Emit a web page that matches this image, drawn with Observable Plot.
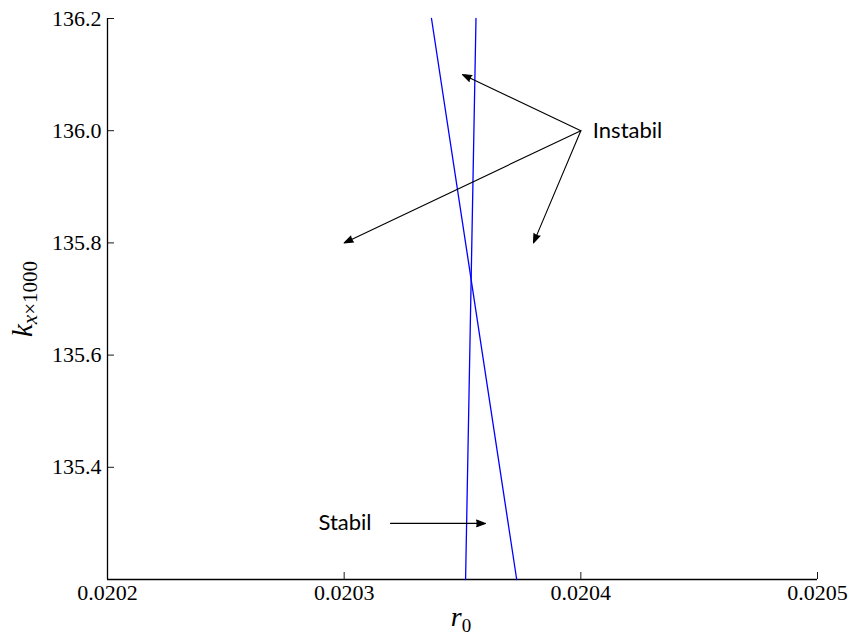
<!DOCTYPE html>
<html>
<head>
<meta charset="utf-8">
<script src="https://cdn.jsdelivr.net/npm/d3@7"></script>
<script src="https://cdn.jsdelivr.net/npm/@observablehq/plot@0.6"></script>
<style>
  body { margin: 0; background: #fff; }
</style>
</head>
<body>
<div id="chart"></div>
<script>
// Axis ranges and tick values
const xDomain = [0.0202, 0.0205];
const yDomain = [135.2, 136.2];
const xTicks = [0.0202, 0.0203, 0.0204, 0.0205];
const yTicks = [135.4, 135.6, 135.8, 136.0, 136.2];

// Two stability boundary curves (r0, kx×1000)
const curveA_r0 = [0.0203557, 0.0203513];
const curveA_kx = [136.2, 135.2];
const curveB_r0 = [0.0203369, 0.0203729];
const curveB_kx = [136.2, 135.2];

// Annotation arrows: origin and tip in data units
const instabilOrigin = [0.0204, 136.0];
const instabilTips_r0 = [0.02035, 0.0203, 0.02038];
const instabilTips_kx = [136.1, 135.8, 135.8];
const stabilFrom = [0.0203196, 135.3];
const stabilTo = [0.0203597, 135.3];

const curves = [
  ...curveA_r0.map((r, i) => ({series: "A", r0: r, kx: curveA_kx[i]})),
  ...curveB_r0.map((r, i) => ({series: "B", r0: r, kx: curveB_kx[i]}))
];

const arrows = [
  ...instabilTips_r0.map((r, i) => ({x1: instabilOrigin[0], y1: instabilOrigin[1], x2: r, y2: instabilTips_kx[i]})),
  {x1: stabilFrom[0], y1: stabilFrom[1], x2: stabilTo[0], y2: stabilTo[1]}
];

const fmtX = d3.format(".4f");
const fmtY = d3.format(".1f");

const plot = Plot.plot({
  width: 849,
  height: 639,
  marginLeft: 107,
  marginRight: 32,
  marginTop: 18,
  marginBottom: 60,
  style: {fontFamily: "Liberation Serif", fontSize: "22px", color: "#000", background: "#fff"},
  x: {domain: xDomain, label: null},
  y: {domain: yDomain, label: null},
  marks: [
    Plot.axisX({ticks: xTicks, tickFormat: fmtX, tickSize: -7, tickPadding: 12, label: null,
      stroke: "#000", strokeOpacity: 0.9, fontSize: 22, fill: "#000"}),
    Plot.axisY({ticks: yTicks, tickFormat: fmtY, tickSize: -7, tickPadding: 13, label: null,
      stroke: "#000", strokeOpacity: 0.9, fontSize: 22, fill: "#000"}),
    Plot.ruleY([yDomain[0]], {stroke: "#000", strokeWidth: 1.3}),
    Plot.ruleX([xDomain[0]], {stroke: "#000", strokeWidth: 1.3}),
    Plot.line(curves, {x: "r0", y: "kx", z: "series", stroke: "#0000ff", strokeWidth: 1.3}),
    Plot.arrow(arrows, {x1: "x1", y1: "y1", x2: "x2", y2: "y2", stroke: "#000", strokeWidth: 1.1,
      headLength: 13, headAngle: 40}),
    Plot.text(["Instabil"], {x: instabilOrigin[0], y: instabilOrigin[1], text: d => d,
      textAnchor: "start", dx: 12, fontFamily: "Lato", fontSize: 22, fill: "#000"}),
    Plot.text(["Stabil"], {x: stabilFrom[0], y: stabilFrom[1], text: d => d,
      textAnchor: "end", dx: -19, fontFamily: "Lato", fontSize: 22, fill: "#000"})
  ]
});

// Solid arrowheads: the head sub-path of each arrow closes into a filled triangle
plot.querySelectorAll('g[aria-label="arrow"]').forEach(g => {
  g.setAttribute("fill", "#000");
  g.setAttribute("stroke-linejoin", "miter");
});

const svg = d3.select(plot);

// Axis titles with subscripts
const yTitle = svg.append("text")
  .attr("transform", "translate(32,299) rotate(-90)")
  .attr("text-anchor", "middle")
  .attr("font-family", "Liberation Serif")
  .attr("fill", "#000");
yTitle.append("tspan").attr("font-style", "italic").attr("font-size", 29).text("k");
yTitle.append("tspan").attr("font-style", "italic").attr("font-size", 21).attr("dy", 5).text("x");
yTitle.append("tspan").attr("font-size", 21).text("×1000");

const xTitle = svg.append("text")
  .attr("x", 461).attr("y", 626)
  .attr("text-anchor", "middle")
  .attr("font-family", "Liberation Serif")
  .attr("fill", "#000");
xTitle.append("tspan").attr("font-style", "italic").attr("font-size", 28).text("r");
xTitle.append("tspan").attr("font-size", 19).attr("dy", 6).text("0");

document.getElementById("chart").appendChild(plot);
</script>
</body>
</html>
